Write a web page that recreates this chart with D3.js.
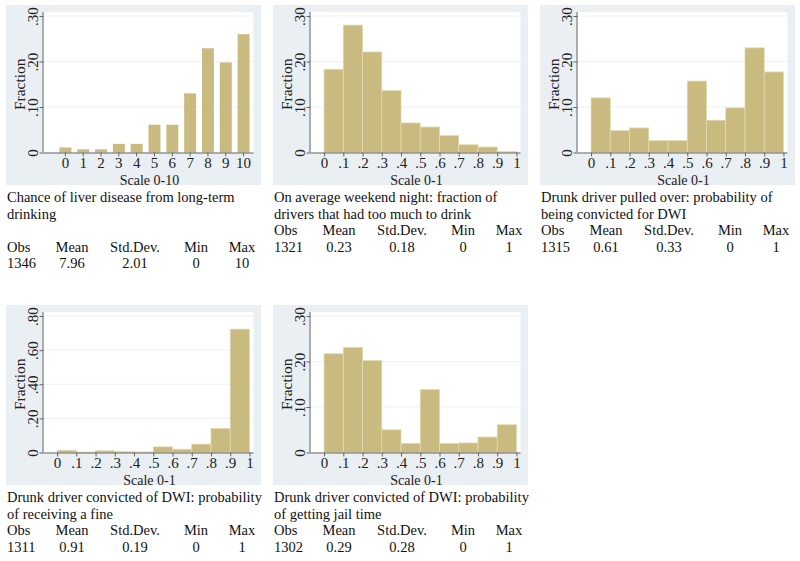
<!DOCTYPE html>
<html><head><meta charset="utf-8">
<script src="https://cdn.jsdelivr.net/npm/d3@7"></script>
<style>body{margin:0;background:#fff}svg{display:block;font-family:"Liberation Serif","Times New Roman",serif}</style>
</head><body><svg id="c" width="800" height="561"></svg>
<script>
// ---- data ----
const liverCats = ["0","1","2","3","4","5","6","7","8","9","10"];
const liverVals = [0.011,0.007,0.007,0.019,0.019,0.061,0.061,0.130,0.229,0.198,0.260];
const binStarts = [0,0.1,0.2,0.3,0.4,0.5,0.6,0.7,0.8,0.9];
const weekendVals = [0.183,0.280,0.221,0.136,0.065,0.056,0.037,0.017,0.012,0.002];
const convictVals = [0.120,0.048,0.054,0.026,0.026,0.157,0.071,0.098,0.230,0.177];
const fineVals = [0.013,0.002,0.010,0.005,0.003,0.033,0.019,0.049,0.141,0.723];
const jailVals = [0.217,0.231,0.202,0.050,0.020,0.138,0.020,0.021,0.034,0.061];
const xTicks01 = ["0",".1",".2",".3",".4",".5",".6",".7",".8",".9","1"];
const yTicks30 = [0,0.1,0.2,0.3];
const yTicks80 = [0,0.2,0.4,0.6,0.8];
const xTitles = ["Scale 0-10","Scale 0-1","Scale 0-1","Scale 0-1","Scale 0-1"];
const captions = [
  ["Chance of liver disease from long-term","drinking",""],
  ["On average weekend night: fraction of","drivers that had too much to drink"],
  ["Drunk driver pulled over: probability of","being convicted for DWI"],
  ["Drunk driver convicted of DWI: probability","of receiving a fine"],
  ["Drunk driver convicted of DWI: probability","of getting jail time"]
];
const statHeads = ["Obs","Mean","Std.Dev.","Min","Max"];
const statObs = ["1346","1321","1315","1311","1302"];
const statMean = ["7.96","0.23","0.61","0.91","0.29"];
const statSD = ["2.01","0.18","0.33","0.19","0.28"];
const statMin = ["0","0","0","0","0"];
const statMax = ["10","1","1","1","1"];

// ---- drawing ----
const svg = d3.select("#c");
const barColor = "#c9ba7f", panelBg = "#e9eff2";
const panels = [
  {px:6, py:5, type:"cat", vals:liverVals, yMax:0.3, ticks:yTicks30},
  {px:273, py:5, type:"bin", vals:weekendVals, yMax:0.3, ticks:yTicks30},
  {px:540, py:5, type:"bin", vals:convictVals, yMax:0.3, ticks:yTicks30},
  {px:6, py:305, type:"bin", vals:fineVals, yMax:0.8, ticks:yTicks80},
  {px:273, py:305, type:"bin", vals:jailVals, yMax:0.3, ticks:yTicks30}
];
const W = 255, H = 180, axOff = 37.5, plotW = 210;
const fmt = v => v===0 ? "0" : d3.format(".2f")(v).replace(/^0/,"");
const capSize = 14.5, tickSize = 15;

panels.forEach((p,i)=>{
  const g = svg.append("g");
  g.append("rect").attr("x",p.px).attr("y",p.py).attr("width",W).attr("height",H).attr("fill",panelBg);
  const ax = p.px + axOff;
  const y = d3.scaleLinear().domain([0,p.yMax]).range([p.py+147.5, p.py+11]);
  g.append("rect").attr("x",ax).attr("y",p.py+7).attr("width",plotW).attr("height",140.5).attr("fill","#fff");
  g.selectAll(null).data(p.ticks.slice(1)).join("line")
    .attr("x1",ax).attr("x2",ax+plotW).attr("y1",d=>y(d)).attr("y2",d=>y(d))
    .attr("stroke","#edf2f4").attr("stroke-width",1);
  let x, ga;
  if(p.type==="cat"){
    x = d3.scaleBand().domain(liverCats).range([ax+13.1, ax+208.9]).paddingInner(0.33).paddingOuter(0.16);
    g.selectAll(null).data(liverVals).join("rect")
      .attr("x",(d,j)=>x(liverCats[j])).attr("width",x.bandwidth())
      .attr("y",d=>y(d)).attr("height",d=>y(0)-y(d)).attr("fill",barColor);
    const xa = d3.axisBottom(x).tickSize(4).tickSizeOuter(0);
    ga = g.append("g").attr("transform",`translate(0,${y(0)})`).call(xa);
  } else {
    x = d3.scaleLinear().domain([-0.0705,1.021]).range([ax, ax+plotW]);
    g.selectAll(null).data(p.vals).join("rect")
      .attr("x",(d,j)=>x(binStarts[j])).attr("width",x(0.1)-x(0))
      .attr("y",d=>y(d)).attr("height",d=>y(0)-y(d)).attr("fill",barColor)
      .attr("stroke","#e2d9b0").attr("stroke-width",0.8);
    const xa = d3.axisBottom(x).tickValues(d3.range(0,11).map(k=>k/10)).tickFormat((d,k)=>xTicks01[k]).tickSize(4).tickSizeOuter(0);
    ga = g.append("g").attr("transform",`translate(0,${y(0)})`).call(xa);
  }
  ga.select(".domain").attr("d",`M${ax},0.5H${ax+plotW}`);
  styleAxis(ga);
  ga.selectAll(".tick text").attr("y",5);
  const ya = d3.axisLeft(y).tickValues(p.ticks).tickFormat(fmt).tickSize(4).tickSizeOuter(0);
  const gy = g.append("g").attr("transform",`translate(${ax},0)`).call(ya);
  gy.select(".domain").attr("d",`M-0.5,${y(0)}V${p.py+7}`);
  styleAxis(gy);
  gy.selectAll(".tick text").attr("transform","rotate(-90)").attr("x",null).attr("dy",null)
    .attr("y",-6).attr("text-anchor","middle").attr("dominant-baseline","auto");
  g.append("text").attr("transform",`translate(${p.px+19},${(y(0)+y(p.yMax))/2}) rotate(-90)`)
    .attr("text-anchor","middle").attr("font-size",15.5).attr("fill","#222").text("Fraction");
  g.append("text").attr("x",ax+plotW/2+1).attr("y",p.py+179.5).attr("text-anchor","middle")
    .attr("font-size",14).attr("fill","#222").text(xTitles[i]);
  const lh = 16.5;
  let ty = p.py + 197;
  captions[i].forEach(line=>{
    g.append("text").attr("x",p.px+1).attr("y",ty).attr("font-size",capSize).attr("fill","#111").text(line);
    ty += lh;
  });
  const cols = [{x:p.px+1,a:"start"},{x:p.px+66,a:"middle"},{x:p.px+129,a:"middle"},{x:p.px+190,a:"middle"},{x:p.px+236,a:"middle"}];
  const vals = [statObs[i],statMean[i],statSD[i],statMin[i],statMax[i]];
  statHeads.forEach((h,k)=>{
    g.append("text").attr("x",cols[k].x).attr("y",ty).attr("text-anchor",cols[k].a).attr("font-size",capSize).attr("fill","#111").text(h);
    g.append("text").attr("x",cols[k].x).attr("y",ty+lh).attr("text-anchor",cols[k].a).attr("font-size",capSize).attr("fill","#111").text(vals[k]);
  });
});
function styleAxis(ga){
  ga.select(".domain").attr("stroke","#666").attr("stroke-width",1);
  ga.selectAll(".tick line").attr("stroke","#666");
  ga.selectAll(".tick text").attr("font-size",tickSize).attr("fill","#222").attr("font-family","Liberation Serif, serif");
}
</script></body></html>
